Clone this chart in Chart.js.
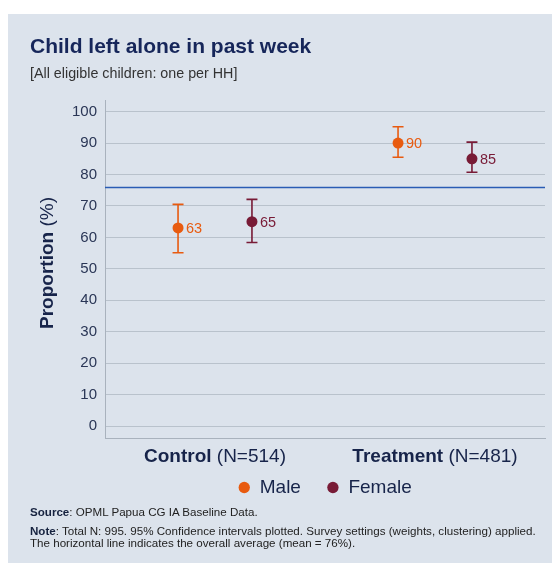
<!DOCTYPE html>
<html>
<head>
<meta charset="utf-8">
<script src="https://cdn.jsdelivr.net/npm/chart.js@4/dist/chart.umd.min.js"></script>
<style>
  html, body { margin: 0; padding: 0; background: #ffffff; width: 553px; height: 563px; overflow: hidden; }
  body { font-family: "Liberation Sans", Arial, sans-serif; }
  #panel { position: absolute; left: 8px; top: 14px; width: 544px; height: 549px; background: #dce3ec; }
  #chart { position: absolute; left: 0; top: 0; width: 544px; height: 549px; }
  #title { position: absolute; left: 22px; top: 20px; font-size: 21px; font-weight: bold; color: #16265a; white-space: nowrap; }
  #subtitle { position: absolute; left: 22px; top: 51px; font-size: 14.3px; color: #333333; white-space: nowrap; }
  #notes { position: absolute; left: 22px; top: 492px; font-size: 11.6px; color: #222222; line-height: 12px; white-space: nowrap; }
  #notes b { color: #16223f; }
  #notes .src { margin-bottom: 7px; }
</style>
</head>
<body>
<div id="panel">
  <canvas id="chart" width="544" height="549"></canvas>
  <div id="title">Child left alone in past week</div>
  <div id="subtitle">[All eligible children: one per HH]</div>
  <div id="notes">
    <div class="src"><b>Source</b>: OPML Papua CG IA Baseline Data.</div>
    <div><b>Note</b>: Total N: 995. 95% Confidence intervals plotted. Survey settings (weights, clustering) applied.</div>
    <div>The horizontal line indicates the overall average (mean = 76%).</div>
  </div>
</div>
<script>
// Groups on the x axis and their sample sizes
const groups = ['Control', 'Treatment'];
const groupN = ['(N=514)', '(N=481)'];

// Proportion (%) by sex, with 95% confidence interval bounds
const maleValues = [63, 90];
const maleLow = [55.1, 85.5];
const maleHigh = [70.5, 95.2];

const femaleValues = [65, 85];
const femaleLow = [58.4, 80.7];
const femaleHigh = [72.1, 90.3];

// Overall average line and y tick values
const overallMean = 76;
const yTickValues = [0, 10, 20, 30, 40, 50, 60, 70, 80, 90, 100];

const MALE_COLOR = '#e85b10';
const FEMALE_COLOR = '#781b36';
const TEXT_COLOR = '#17244a';
const DODGE = 0.168; // horizontal offset of each sex within a group

function toPoints(values, side) {
  return values.map((v, i) => ({ x: i + side * DODGE, y: v }));
}

const series = [
  { label: 'Male', values: maleValues, low: maleLow, high: maleHigh, color: MALE_COLOR, side: -1 },
  { label: 'Female', values: femaleValues, low: femaleLow, high: femaleHigh, color: FEMALE_COLOR, side: 1 }
];

// Mean line and confidence-interval whiskers, drawn beneath the points
const underlayPlugin = {
  id: 'underlay',
  beforeDatasetsDraw(chart) {
    const { ctx, chartArea, scales: { x, y } } = chart;
    ctx.save();
    const my = Math.round(y.getPixelForValue(overallMean)) + 0.5;
    ctx.strokeStyle = '#2a5cb4';
    ctx.lineWidth = 1.6;
    ctx.beginPath();
    ctx.moveTo(chartArea.left, my);
    ctx.lineTo(chartArea.right, my);
    ctx.stroke();

    series.forEach(s => {
      ctx.strokeStyle = s.color;
      ctx.lineWidth = 1.6;
      s.values.forEach((v, i) => {
        const px = x.getPixelForValue(i + s.side * DODGE);
        const yl = y.getPixelForValue(s.low[i]);
        const yh = y.getPixelForValue(s.high[i]);
        const cap = 5.5;
        ctx.beginPath();
        ctx.moveTo(px, yl); ctx.lineTo(px, yh);
        ctx.moveTo(px - cap, yl); ctx.lineTo(px + cap, yl);
        ctx.moveTo(px - cap, yh); ctx.lineTo(px + cap, yh);
        ctx.stroke();
      });
    });
    ctx.restore();
  }
};

// Value labels beside points, group labels under the axis, and the y-axis title
const labelPlugin = {
  id: 'labels',
  afterDatasetsDraw(chart) {
    const { ctx, scales: { x, y } } = chart;
    ctx.save();
    ctx.font = '14.5px "Liberation Sans", Arial, sans-serif';
    ctx.textBaseline = 'middle';
    ctx.textAlign = 'left';
    series.forEach(s => {
      ctx.fillStyle = s.color;
      s.values.forEach((v, i) => {
        const px = x.getPixelForValue(i + s.side * DODGE);
        const py = y.getPixelForValue(v);
        ctx.fillText(String(Math.round(v)), px + 8, py + 1);
      });
    });
    ctx.restore();
  },
  afterDraw(chart) {
    const { ctx, chartArea, scales: { x } } = chart;
    ctx.save();
    ctx.fillStyle = TEXT_COLOR;
    ctx.textBaseline = 'middle';
    ctx.textAlign = 'left';
    const boldFont = 'bold 19px "Liberation Sans", Arial, sans-serif';
    const regFont = '19px "Liberation Sans", Arial, sans-serif';
    groups.forEach((g, i) => {
      ctx.font = boldFont;
      const wb = ctx.measureText(g).width;
      ctx.font = regFont;
      const wr = ctx.measureText(' ' + groupN[i]).width;
      const cx = x.getPixelForValue(i);
      const left = cx - (wb + wr) / 2;
      const ty = chartArea.bottom + 19;
      ctx.font = boldFont;
      ctx.fillText(g, left, ty);
      ctx.font = regFont;
      ctx.fillText(' ' + groupN[i], left + wb, ty);
    });

    // rotated y-axis title: bold word followed by regular unit
    const tBold = 'Proportion';
    const tReg = ' (%)';
    ctx.translate(40, (chartArea.top + chartArea.bottom) / 2 - 6);
    ctx.rotate(-Math.PI / 2);
    ctx.font = boldFont;
    const wb = ctx.measureText(tBold).width;
    ctx.font = regFont;
    const wr = ctx.measureText(tReg).width;
    const left = -(wb + wr) / 2;
    ctx.font = boldFont;
    ctx.fillText(tBold, left, 0);
    ctx.font = regFont;
    ctx.fillText(tReg, left + wb, 0);
    ctx.restore();
  }
};

new Chart(document.getElementById('chart'), {
  type: 'scatter',
  data: {
    datasets: series.map(s => ({
      label: s.label,
      data: toPoints(s.values, s.side),
      backgroundColor: s.color,
      borderColor: s.color,
      pointRadius: 5.5,
      pointHoverRadius: 5.5,
      pointBorderWidth: 0,
      pointStyle: 'circle'
    }))
  },
  options: {
    responsive: false,
    animation: false,
    events: [],
    layout: { padding: { left: 0, top: 86, right: 7, bottom: 56 } },
    scales: {
      x: {
        type: 'linear',
        min: -0.5,
        max: 1.5,
        grid: { display: false },
        border: { display: true, color: '#a9b2bd', width: 1 },
        ticks: { display: false },
        afterFit(scale) { scale.height = 14; }
      },
      y: {
        min: -3.8,
        max: 103.7,
        afterBuildTicks(scale) { scale.ticks = yTickValues.map(v => ({ value: v })); },
        afterFit(scale) { scale.width = 97; },
        grid: { color: '#b9c2cc', lineWidth: 1, drawTicks: false },
        border: { display: true, color: '#a9b2bd', width: 1 },
        ticks: {
          padding: 8,
          color: '#2a3656',
          font: { family: '"Liberation Sans", Arial, sans-serif', size: 15 }
        }
      }
    },
    plugins: {
      legend: {
        position: 'bottom',
        fullSize: false,
        labels: {
          usePointStyle: true,
          pointStyle: 'circle',
          boxWidth: 12,
          boxHeight: 8,
          padding: 26,
          color: TEXT_COLOR,
          font: { family: '"Liberation Sans", Arial, sans-serif', size: 19 }
        }
      },
      tooltip: { enabled: false }
    }
  },
  plugins: [underlayPlugin, labelPlugin]
});
</script>
</body>
</html>
